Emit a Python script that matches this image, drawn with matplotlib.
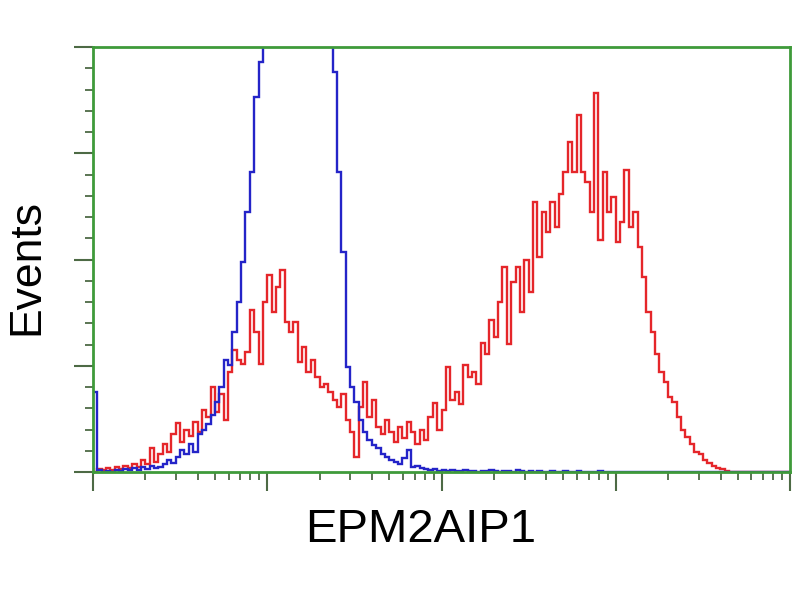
import numpy as np
import matplotlib
matplotlib.use("Agg")
import matplotlib.pyplot as plt
from matplotlib.ticker import LogLocator, MultipleLocator, NullFormatter

# histogram channels: 40 bins per decade over 4 decades
n_bins = 160
edges = np.logspace(0, 4, n_bins + 1)

# stained sample (red)
red_counts = [
    0, 3, 2, 4, 2, 5, 3, 6, 4, 8,
    5, 12, 8, 24, 10, 18, 28, 20, 38, 49,
    30, 42, 36, 50, 40, 62, 55, 85, 60, 78,
    52, 100, 122, 112, 108, 120, 162, 140, 108, 170,
    197, 160, 185, 202, 150, 140, 150, 110, 125, 100,
    112, 95, 85, 88, 80, 72, 65, 78, 52, 40,
    15, 65, 90, 55, 72, 45, 38, 52, 40, 30,
    45, 34, 50, 40, 28, 42, 32, 55, 69, 42,
    62, 105, 72, 80, 68, 107, 95, 100, 88, 129,
    118, 152, 135, 170, 205, 128, 190, 205, 160, 212,
    180, 270, 215, 260, 240, 270, 245, 278, 300, 330,
    300, 357, 300, 290, 260, 379, 232, 300, 260, 275,
    230, 250, 302, 245, 260, 225, 195, 160, 140, 118,
    100, 90, 75, 70, 55, 42, 35, 28, 20, 18,
    12, 9, 6, 4, 3, 1, 0, 0, 0, 0,
    0, 0, 0, 0, 0, 0, 0, 0, 0, 0,
]

# isotype control (blue)
blue_counts = [
    80, 2, 0, 1, 0, 2, 1, 3, 2, 4,
    2, 5, 3, 6, 4, 5, 8, 12, 9, 15,
    22, 18, 28, 20, 38, 42, 48, 57, 70, 85,
    112, 107, 140, 170, 210, 260, 300, 375, 410, 430,
    480, 530, 580, 620, 650, 670, 680, 670, 650, 620,
    580, 540, 500, 470, 440, 400, 300, 220, 105, 85,
    70, 52, 40, 32, 27, 24, 18, 15, 12, 10,
    8, 14, 22, 5, 6, 4, 3, 2, 3, 1,
    2, 1, 2, 1, 1, 2, 1, 1, 0, 1,
    1, 2, 1, 0, 1, 1, 0, 2, 1, 0,
    1, 0, 1, 0, 0, 1, 0, 0, 1, 0,
    0, 1, 0, 0, 0, 0, 1, 0, 0, 0,
    0, 0, 0, 0, 0, 0, 0, 0, 0, 0,
    0, 0, 0, 0, 0, 0, 0, 0, 0, 0,
    0, 0, 0, 0, 0, 0, 0, 0, 0, 0,
    0, 0, 0, 0, 0, 0, 0, 0, 0, 0,
]

green = "#3f9a3a"
tick_col = "#4d6a45"

fig = plt.figure(figsize=(8, 6), dpi=100)
ax = fig.add_axes([93 / 800, 128 / 600, 697 / 800, 425 / 600])

ax.stairs(red_counts, edges, baseline=None, color="#e5262a", lw=1.7)
ax.stairs(blue_counts, edges, baseline=None, color="#2424c8", lw=1.7)

ax.set_xscale("log")
ax.set_xlim(1, 1e4)
ax.set_ylim(0, 425)

ax.xaxis.set_major_locator(LogLocator(base=10, numticks=10))
ax.xaxis.set_minor_locator(LogLocator(base=10, subs=np.arange(2, 10), numticks=20))
ax.xaxis.set_major_formatter(NullFormatter())
ax.xaxis.set_minor_formatter(NullFormatter())
ax.yaxis.set_major_locator(MultipleLocator(106.25))
ax.yaxis.set_minor_locator(MultipleLocator(21.25))
ax.yaxis.set_major_formatter(NullFormatter())

ax.tick_params(axis="both", which="major", direction="out", length=14, width=1.5, color=tick_col)
ax.tick_params(axis="both", which="minor", direction="out", length=6, width=1.3, color=tick_col)

for s in ax.spines.values():
    s.set_color(green)
    s.set_linewidth(2)

fig.text(421 / 800, 1 - 530 / 600, "EPM2AIP1", ha="center", va="center",
         fontsize=34, family="Liberation Sans")
fig.text(27 / 800, 1 - 267 / 600, "Events", ha="center", va="center", rotation=90,
         fontsize=32, family="Liberation Sans")

fig.savefig("out.png", dpi=100)
